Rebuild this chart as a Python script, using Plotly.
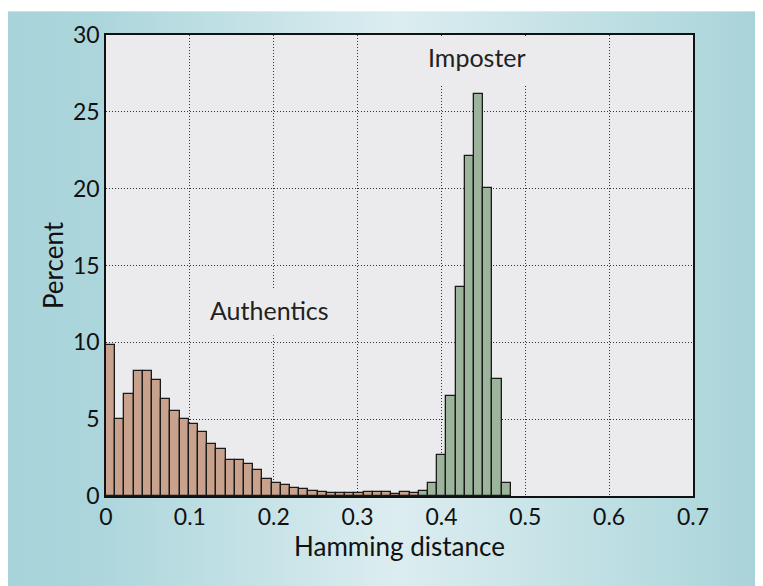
import base64
import numpy as np
import plotly.graph_objects as go

# ---- data ----
bin_width = 0.01097  # Hamming-distance bin width
authentic_pct = [9.85, 5.03, 6.64, 8.13, 8.13, 7.57, 6.31, 5.51, 4.99, 4.66,
                 4.14, 3.41, 3.06, 2.32, 2.32, 2.06, 1.71, 1.08, 0.82, 0.74,
                 0.55, 0.43, 0.35, 0.28, 0.22, 0.22, 0.22, 0.22, 0.24, 0.24,
                 0.24, 0.13, 0.24, 0.17]
imposter_first_bin = 34
imposter_pct = [0.33, 0.82, 2.67, 6.51, 13.62, 22.13, 26.16, 20.07, 7.61, 0.82]
x_ticks = [0, 0.1, 0.2, 0.3, 0.4, 0.5, 0.6, 0.7]
x_ticklabels = ["0", "0.1", "0.2", "0.3", "0.4", "0.5", "0.6", "0.7"]
y_ticks = [0, 5, 10, 15, 20, 25, 30]
y_ticklabels = ["0", "5", "10", "15", "20", "25", "30"]

auth_x = (np.arange(len(authentic_pct)) + 0.5) * bin_width
imp_x = (np.arange(len(imposter_pct)) + imposter_first_bin + 0.5) * bin_width

W, H = 763, 586
ML, MR, MT, MB = 98, 78, 24, 98
PLOT_BG = "#ebebed"
FONT = "Lato, 'Open Sans', sans-serif"

fig = go.Figure()
fig.add_trace(go.Bar(x=auth_x, y=authentic_pct, width=bin_width,
                     marker=dict(color="#c9a28d", line=dict(color="#1a1a1a", width=1.3)),
                     name="Authentics", showlegend=False))
fig.add_trace(go.Bar(x=imp_x, y=imposter_pct, width=bin_width,
                     marker=dict(color="#9db49c", line=dict(color="#1a1a1a", width=1.3)),
                     name="Imposter", showlegend=False))

# background gradient as an SVG image covering the whole paper
svg = f'''<svg xmlns="http://www.w3.org/2000/svg" width="{W}" height="{H}" viewBox="0 0 {W} {H}" preserveAspectRatio="none">
<defs><linearGradient id="g" x1="0" y1="0" x2="1" y2="0">
<stop offset="0" stop-color="#a7d3da"/>
<stop offset="0.12" stop-color="#acd6dc"/>
<stop offset="0.51" stop-color="#dcedf0"/>
<stop offset="0.9" stop-color="#b2d9de"/>
<stop offset="1" stop-color="#a6d1d8"/>
</linearGradient></defs>
<rect x="0" y="0" width="{W}" height="{H}" fill="url(#g)"/>
</svg>'''
src = "data:image/svg+xml;base64," + base64.b64encode(svg.encode()).decode()
pw, ph = W - ML - MR, H - MT - MB
fig.add_layout_image(dict(source=src, xref="paper", yref="paper",
                          x=-ML / pw, y=1 + MT / ph, sizex=W / pw, sizey=H / ph,
                          xanchor="left", yanchor="top", sizing="stretch",
                          layer="below"))
# plot-area fill (drawn over the background image, under the gridlines)
fig.add_shape(type="rect", xref="x domain", yref="y domain", x0=0, x1=1, y0=0, y1=1,
              fillcolor=PLOT_BG, line=dict(width=0), layer="below")

# label boxes that interrupt the dotted grid
fig.add_annotation(x=0.195, y=12.0, xref="x", yref="y", text=" ",
                   showarrow=False, bgcolor=PLOT_BG, width=140, height=46, borderpad=0)
fig.add_annotation(x=0.441, y=28.32, xref="x", yref="y", text=" ",
                   showarrow=False, bgcolor=PLOT_BG, width=112, height=46, borderpad=0)
# labels
fig.add_annotation(x=0.195, y=12.1, xref="x", yref="y", text="Authentics",
                   showarrow=False, font=dict(family=FONT, size=25, color="#222"))
fig.add_annotation(x=0.442, y=28.55, xref="x", yref="y", text="Imposter",
                   showarrow=False, font=dict(family=FONT, size=25, color="#222"))

axis_common = dict(showline=True, linecolor="#111", linewidth=1.6, mirror=True,
                   showgrid=True, gridcolor="#333", gridwidth=1, griddash="1px,2px",
                   zeroline=False, ticks="",
                   tickfont=dict(family=FONT, size=23, color="#111"))
fig.update_xaxes(range=[0, 0.7], tickvals=x_ticks, ticktext=x_ticklabels,
                 title=dict(text="Hamming distance", font=dict(family=FONT, size=26, color="#111"),
                            standoff=8),
                 **axis_common)
fig.update_yaxes(range=[0, 30], tickvals=y_ticks, ticktext=y_ticklabels,
                 title=dict(text="Percent", font=dict(family=FONT, size=26, color="#111"),
                            standoff=2),
                 **axis_common)

fig.update_layout(width=W, height=H, margin=dict(l=ML, r=MR, t=MT, b=MB),
                  paper_bgcolor="#ffffff", plot_bgcolor=PLOT_BG, bargap=0,
                  barmode="overlay", font=dict(family=FONT))
fig.write_html("out.html")
